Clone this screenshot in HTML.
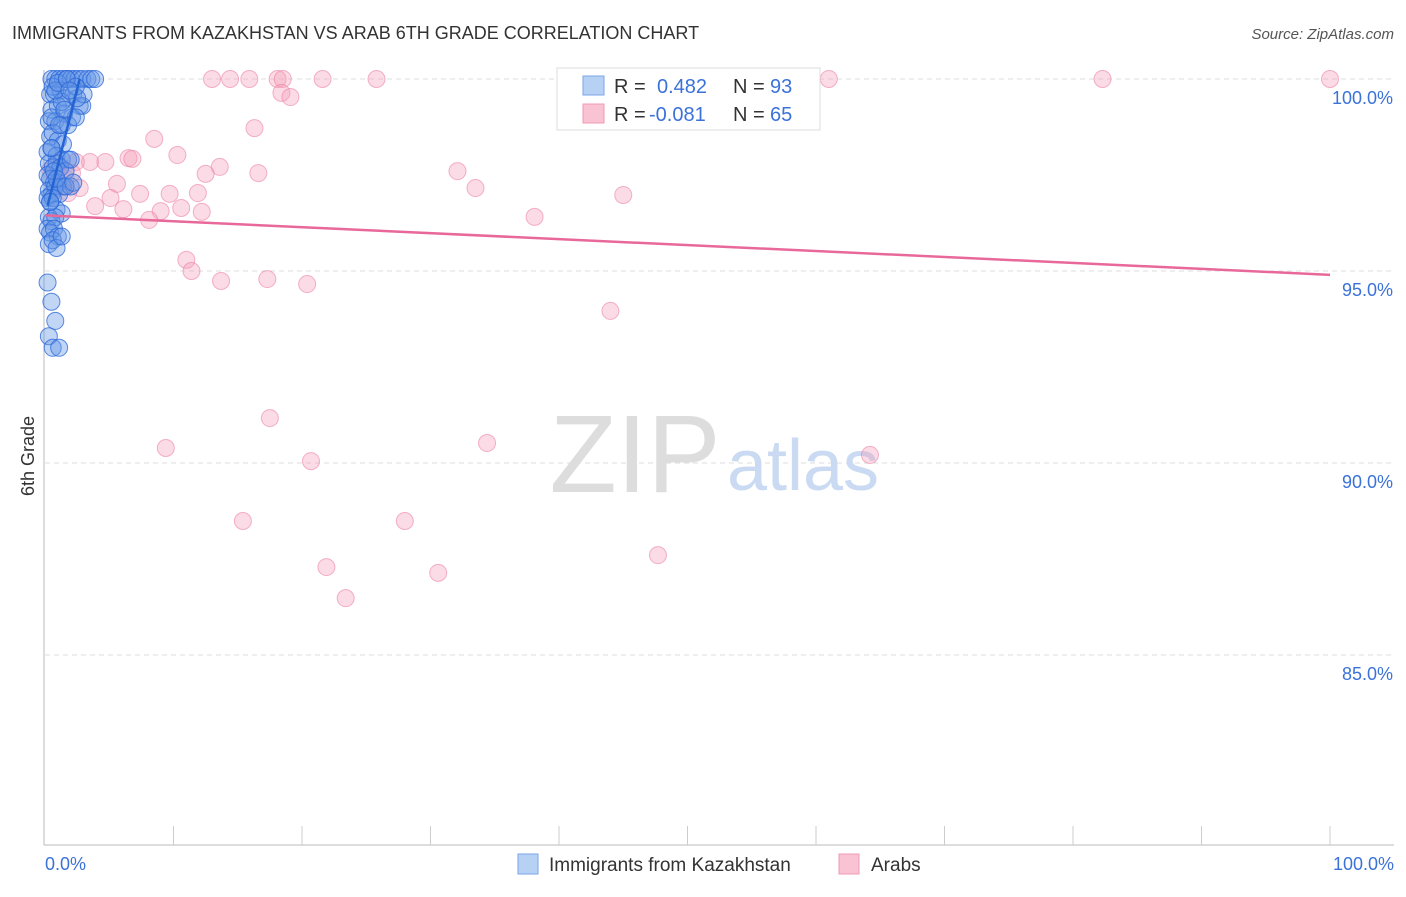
<!DOCTYPE html>
<html><head><meta charset="utf-8"><style>
body{margin:0;background:#fff;font-family:"Liberation Sans",sans-serif}
svg text{font-family:"Liberation Sans",sans-serif}
</style></head><body>
<svg id="c" width="1406" height="892" xmlns="http://www.w3.org/2000/svg">
<text x="12" y="39" font-size="18" fill="#333">IMMIGRANTS FROM KAZAKHSTAN VS ARAB 6TH GRADE CORRELATION CHART</text>
<text x="1394" y="39" font-size="15" fill="#555" font-style="italic" text-anchor="end">Source: ZipAtlas.com</text>
<text x="34" y="456" font-size="18" fill="#333" transform="rotate(-90 34 456)" text-anchor="middle">6th Grade</text>
<g id="grid"></g>
<text x="635" y="492" font-size="110" fill="#ddd" font-family="Liberation Serif" text-anchor="middle">ZIP</text>
<text x="803" y="490" font-size="72" fill="#c9daf2" text-anchor="middle">atlas</text>
<g id="pts"></g>
<g id="lines"></g>
<g>
<rect x="557" y="68" width="263" height="62" fill="#fff" stroke="#ddd"/>
<rect x="583" y="76" width="21" height="19" fill="#b7d1f5" stroke="#7aa6e8"/>
<rect x="583" y="104" width="21" height="19" fill="#f9c3d3" stroke="#f09ab3"/>
<text x="614" y="93" font-size="20" fill="#333">R = </text><text x="657" y="93" font-size="20" fill="#3b72d9">0.482</text>
<text x="733" y="93" font-size="20" fill="#333">N = </text><text x="770" y="93" font-size="20" fill="#3b72d9">93</text>
<text x="614" y="121" font-size="20" fill="#333">R = </text><text x="649" y="121" font-size="20" fill="#3b72d9">-0.081</text>
<text x="733" y="121" font-size="20" fill="#333">N = </text><text x="770" y="121" font-size="20" fill="#3b72d9">65</text>
</g>
<g>
<rect x="518" y="854" width="20" height="20" fill="#b7d1f5" stroke="#7aa6e8"/>
<text x="549" y="871" font-size="19" fill="#333">Immigrants from Kazakhstan</text>
<rect x="839" y="854" width="20" height="20" fill="#f9c3d3" stroke="#f09ab3"/>
<text x="871" y="871" font-size="19" fill="#333">Arabs</text>
</g>
</svg>
<script>
const yTicks=[100,95,90,85];
const xTickLabels=["0.0%","100.0%"];
const pinkX=[13.0,14.4,15.9,18.1,18.5,21.6,25.8,47.0,61.0,82.3,100,18.4,19.1,16.3,8.5,10.3,6.5,6.8,4.7,3.5,2.4,13.6,16.6,32.1,12.5,5.6,2.7,33.5,7.4,9.7,11.9,5.1,45.0,3.9,6.1,9.0,10.6,12.2,8.1,38.1,11.0,11.4,13.7,17.3,20.4,44.0,17.5,9.4,34.4,20.7,64.2,15.4,28.0,47.7,21.9,30.6,23.4,1.2,1.6,0.8,1.8,2.1,1.0,0.4,1.3];
const pinkY=[100,100,100,100,100,100,100,100,100,100,100,99.64,99.53,98.72,98.44,98.02,97.94,97.92,97.84,97.84,97.84,97.71,97.55,97.6,97.53,97.27,97.16,97.16,97.01,97.01,97.03,96.9,96.98,96.69,96.61,96.56,96.64,96.54,96.33,96.41,95.29,95.0,94.74,94.79,94.66,93.96,91.17,90.39,90.52,90.05,90.21,88.49,88.49,87.6,87.29,87.14,86.48,97.68,97.42,97.16,97.03,97.55,97.81,97.63,97.21];
const blueX=[0.5,0.8,1.1,1.4,1.7,2.0,2.3,2.6,2.9,3.3,3.6,3.9,0.4,0.7,1.2,1.6,2.2,2.7,0.5,1.0,1.5,2.1,2.9,0.3,0.8,1.3,1.8,2.4,0.4,0.6,1.0,1.4,0.2,0.5,0.9,1.3,1.8,0.3,0.6,0.9,1.2,1.6,2.0,0.2,0.4,0.7,1.0,1.4,0.3,0.5,0.8,1.1,0.2,0.4,0.6,0.9,1.3,0.3,0.5,0.8,2.0,0.2,0.4,0.7,1.0,0.3,0.6,0.9,1.3,0.2,0.5,0.8,0.3,0.6,1.1,0.4,0.7,0.5,0.6,1.3,0.5,0.8,1.0,3.0,2.5,1.7,2.4,1.9,1.5,1.1,0.9,1.6,2.2];
const blueY=[100,100,100,100,100,100,100,100,100,100,100,100,99.6,99.6,99.7,99.5,99.6,99.3,99.2,99.3,99.1,99.0,99.3,98.9,98.9,98.8,98.8,99.0,98.5,98.6,98.4,98.3,98.1,98.2,98.0,97.9,97.9,97.8,97.7,97.8,97.7,97.6,97.9,97.5,97.4,97.3,97.3,97.2,97.1,97.0,97.2,97.0,96.9,96.8,96.9,96.6,96.5,96.4,96.3,96.4,97.2,96.1,96.0,96.1,95.9,95.7,95.8,95.6,95.9,94.7,94.2,93.7,93.3,93.0,93.0,96.8,97.6,98.2,99.8,99.4,99.0,99.7,99.9,99.6,99.5,100,99.8,99.7,99.2,98.8,97.4,97.2,97.3];
const pinkLine=[96.45,94.9];
const blueLine=[[0.2,96.7],[2.7,100]];
const X=v=>45+v*12.85, Y=v=>79+(100-v)*38.4;
const NS="http://www.w3.org/2000/svg";
function mk(tag,attrs,parent){const e=document.createElementNS(NS,tag);for(const k in attrs)e.setAttribute(k,attrs[k]);parent.appendChild(e);return e;}
const grid=document.getElementById('grid');
yTicks.forEach(t=>{
 const l=mk('line',{x1:45,x2:1394,y1:Y(t),y2:Y(t),stroke:'#ddd','stroke-dasharray':'5,4'},grid);
 
 
 const tx=mk('text',{x:1393,y:Y(t)+25,'font-size':18,fill:'#3b72d9','text-anchor':'end'},grid);
 tx.textContent=t.toFixed(1)+'%';
 
 
});
const ax=mk('line',{x1:44,x2:44,y1:70,y2:845,stroke:'#bbb'},grid);


const bx=mk('line',{x1:44,x2:1394,y1:845,y2:845,stroke:'#bbb'},grid);


for(let i=1;i<=10;i++){const t=mk('line',{x1:X(i*10),x2:X(i*10),y1:826,y2:845,stroke:'#ccc'},grid);
 
 }
[[0,'start',45],[100,'end',1394]].forEach((d,i)=>{const t=mk('text',{x:d[2],y:870,'font-size':18,fill:'#3b72d9','text-anchor':d[1]},grid);t.textContent=xTickLabels[i];
 
 });
const pts=document.getElementById('pts');
pinkX.forEach((v,i)=>{const c=mk('circle',{cx:X(v),cy:Y(pinkY[i]),r:8.5,fill:'rgba(244,160,186,0.38)',stroke:'rgba(236,130,165,0.6)','stroke-width':1},pts);
 
 });
blueX.forEach((v,i)=>{const c=mk('circle',{cx:X(v),cy:Y(blueY[i]),r:8.5,fill:'rgba(100,150,230,0.4)',stroke:'rgba(40,100,215,0.75)','stroke-width':1},pts);
 
 });
const lines=document.getElementById('lines');
const pl=mk('line',{x1:X(0),y1:Y(pinkLine[0]),x2:X(100),y2:Y(pinkLine[1]),stroke:'#e8689a','stroke-width':2.5},lines);


const bl=mk('line',{x1:X(blueLine[0][0]),y1:Y(blueLine[0][1]),x2:X(blueLine[1][0]),y2:Y(blueLine[1][1]),stroke:'#2364d2','stroke-width':2.5},lines);


</script>
</body></html>
